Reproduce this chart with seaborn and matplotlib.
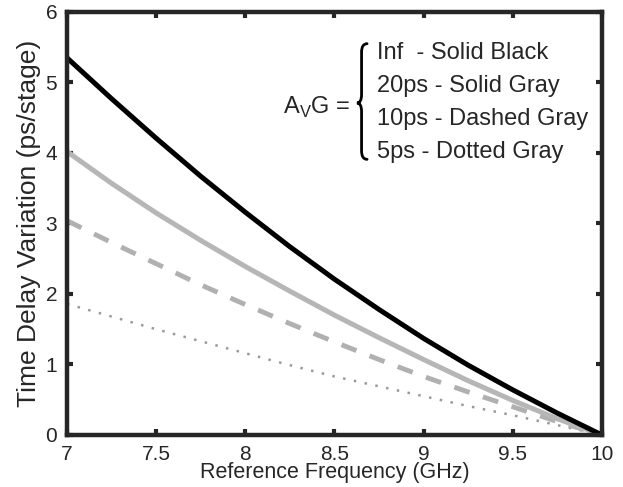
import pandas as pd
import matplotlib.pyplot as plt
from matplotlib.path import Path
from matplotlib.patches import PathPatch
import seaborn as sns

freq = [7.0, 7.25, 7.5, 7.75, 8.0, 8.25, 8.5, 8.75, 9.0, 9.25, 9.5, 9.75, 10.0]
delay_inf = [5.35, 4.77, 4.21, 3.67, 3.16, 2.67, 2.21, 1.78, 1.37, 0.99, 0.64, 0.31, 0.0]
delay_20ps = [4.02, 3.57, 3.15, 2.76, 2.39, 2.04, 1.70, 1.38, 1.07, 0.77, 0.49, 0.23, 0.0]
delay_10ps = [3.04, 2.73, 2.43, 2.13, 1.85, 1.58, 1.32, 1.07, 0.83, 0.61, 0.40, 0.19, 0.0]
delay_5ps = [1.86, 1.68, 1.50, 1.33, 1.16, 0.99, 0.83, 0.69, 0.55, 0.41, 0.28, 0.14, 0.0]

legend_lines = ["Inf  - Solid Black", "20ps - Solid Gray", "10ps - Dashed Gray", "5ps - Dotted Gray"]

sns.set_style("ticks")
plt.rcParams['font.family'] = ['Liberation Sans', 'DejaVu Sans']

fig = plt.figure(figsize=(6.23, 4.87), dpi=100)
ax = fig.add_axes([0.1075, 0.1068, 0.8587, 0.8686])

sns.lineplot(x=freq, y=delay_5ps, ax=ax, color="#9a9a9a", lw=1.8, linestyle=(0, (1, 3.4)))
sns.lineplot(x=freq, y=delay_10ps, ax=ax, color="#b0b0b0", lw=3.5, linestyle=(0, (3.3, 2.9)))
sns.lineplot(x=freq, y=delay_20ps, ax=ax, color="#b6b6b6", lw=3.6)
sns.lineplot(x=freq, y=delay_inf, ax=ax, color="black", lw=3.6)

ax.set_xlim(7, 10)
ax.set_ylim(0, 6)
ax.set_xticks([7, 7.5, 8, 8.5, 9, 9.5, 10])
ax.set_xticklabels(["7", "7.5", "8", "8.5", "9", "9.5", "10"])
ax.set_yticks(range(7))
ax.tick_params(direction="in", length=4, width=3, labelsize=15, top=True, right=True)
ax.tick_params(axis="x", pad=7)
ax.tick_params(axis="y", pad=7)
for s in ax.spines.values():
    s.set_linewidth(3.2)

ax.set_xlabel("Reference Frequency (GHz)", fontsize=15.5, labelpad=-1)
ax.set_ylabel("Time Delay Variation (ps/stage)", fontsize=19, labelpad=3)

# "A_V G = {" annotation
ax.text(8.587, 4.652, r"A$_\mathregular{V}$G =", fontsize=17, ha="right", va="center")
xl, xm, xr = 8.626, 8.652, 8.683
yt, ymid, yb = 5.55, 4.709, 3.91
d = 0.12
verts = [(xr, yt), (xm, yt), (xm, yt - d), (xm, ymid + d), (xm, ymid), (xl, ymid),
         (xm, ymid), (xm, ymid - d), (xm, yb + d), (xm, yb), (xr, yb)]
codes = [Path.MOVETO, Path.CURVE3, Path.CURVE3, Path.LINETO, Path.CURVE3, Path.CURVE3,
         Path.CURVE3, Path.CURVE3, Path.LINETO, Path.CURVE3, Path.CURVE3]
ax.add_patch(PathPatch(Path(verts, codes), fill=False, lw=2.0, color="black", capstyle="round"))

ys = [5.418, 4.950, 4.482, 4.014]
for yy, t in zip(ys, legend_lines):
    ax.text(8.739, yy, t, fontsize=17, ha="left", va="center")

plt.savefig("out.png", dpi=100)
